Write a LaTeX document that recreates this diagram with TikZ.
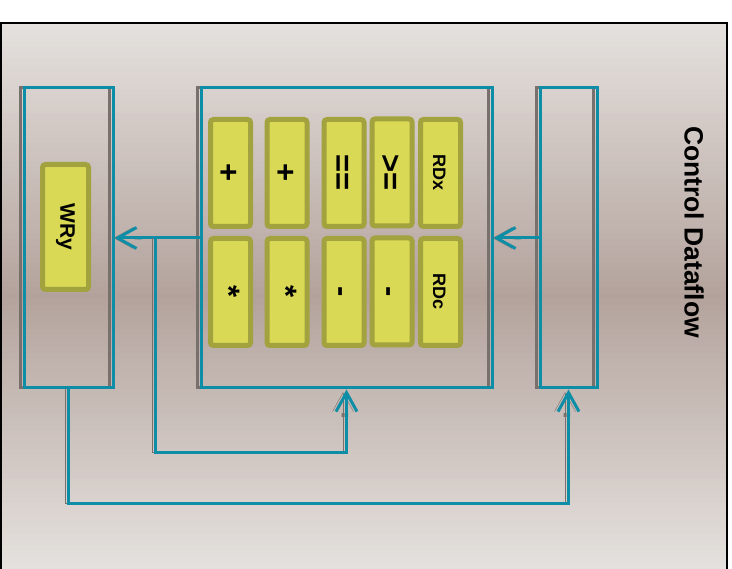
\documentclass[tikz,border=0pt]{standalone}
\usepackage{fontspec}
\setmainfont{Liberation Sans}
\usetikzlibrary{arrows.meta, positioning, calc}
\definecolor{bglight}{HTML}{E5E1DE}
\definecolor{bgdark}{HTML}{B3A29C}
\definecolor{wire}{HTML}{0E8EA6}
\definecolor{shadowgray}{HTML}{78706C}
\definecolor{opfill}{HTML}{D9D955}
\definecolor{opedge}{HTML}{A2A23E}

\begin{document}
\begin{tikzpicture}[x=1pt, y=-1pt, font=\bfseries,
  sh/.style={preaction={draw=shadowgray, transform canvas={xshift=-3.5pt}}},
  unit/.style={draw=wire, line width=3pt, inner sep=0pt, minimum height=300pt, sh},
  op/.style={draw=opedge, fill=opfill, line width=5pt, rounded corners=3pt, rotate=-90,
             inner sep=0pt, minimum width=107pt, minimum height=40pt},
  big/.style={font=\bfseries\fontsize{31}{31}\selectfont, text height=24pt, text depth=0pt},
  small/.style={font=\bfseries\fontsize{18}{18}\selectfont, text height=15pt, text depth=0pt},
  a/.style={-{Butt Cap[] Straight Barb[length=19pt, width=21pt]}, draw=wire, line width=3pt, sh}]
  \useasboundingbox (0,0) rectangle (732,569);
  % slide background, light -> dark -> light
  \foreach \k in {0,...,90} {
    \pgfmathsetmacro\yy{23+6*\k}
    \pgfmathtruncatemacro\pc{100-abs(\yy+3-296)/2.73}
    \fill[bgdark!\pc!bglight] (1,\yy) rectangle (727,\yy+6.5);
  }
  \draw[line width=2pt] (1,23) rectangle (727,580);

  \node[unit, minimum width=89pt] (wr) at (68.5,238) {};
  \node[unit, minimum width=291pt, right=85pt of wr] (alu) {};
  \node[unit, minimum width=57pt, right=45pt of alu] (ctl) {};

  \node[op, minimum width=125pt, minimum height=46pt, font=\bfseries\fontsize{21}{21}\selectfont]
        (wry) at (65.5,227) {WRy};

  \node[op, big] (add1) at (230.5,173) {+};
  \node[op, big] (add2) at (287,173) {+};
  \node[op, big] (eq) at (344,173) {==};
  \node[op, big] (ge) at (392,172.5) {>=};
  \node[op, small] (rdx) at (440.5,173) {RDx};
  \node[op, big] (mul1) at (230.5,292) {*};
  \node[op, big] (mul2) at (287,292) {*};
  \node[op, big] (sub1) at (344,292) {-};
  \node[op, big] (sub2) at (392,291.5) {-};
  \node[op, small] (rdc) at (440.5,292) {RDc};

  \node[rotate=-90, font=\bfseries\fontsize{26.5}{28}\selectfont] (title) at (694,232) {Control Dataflow};

  \coordinate (br) at ($(wr.east)!0.48!(alu.west)$);
  \coordinate (low1) at ($(alu.south)+(0,63)$);
  \coordinate (low2) at ($(ctl.south)+(0,114)$);

  \draw[a] (alu.west) -- (wr.east);
  \draw[a] (br) |- (low1) -- (alu.south);
  \draw[a] (wr.south) |- (low2) -- (ctl.south);
  \draw[a] (ctl.west) -- (alu.east);
\end{tikzpicture}
\end{document}
